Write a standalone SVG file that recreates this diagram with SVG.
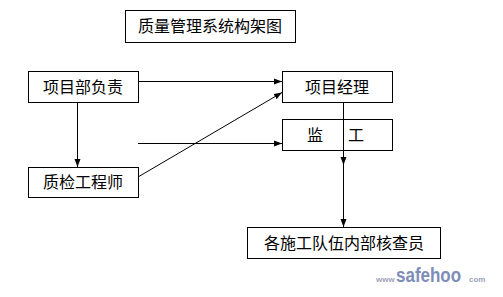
<svg xmlns="http://www.w3.org/2000/svg" width="503" height="297" viewBox="0 0 503 297">
<style>
.box{fill:#fff;stroke:#000;stroke-width:1}
.t{font-family:"Noto Sans CJK SC","Noto Sans CJK JP",sans-serif;font-size:16px;fill:#000;text-anchor:middle}
.c{stroke:#000;stroke-width:1;fill:none;marker-end:url(#ah)}
</style>
<defs>
<marker id="ah" markerUnits="userSpaceOnUse" markerWidth="8" markerHeight="8" viewBox="0 0 8 8" refX="8" refY="4" orient="auto">
<path d="M0,1 L8,4 L0,7 Z" fill="#000"/>
</marker>
</defs>
<rect width="503" height="297" fill="#fff"/>
<g id="title"><rect class="box" x="125.5" y="10.5" width="170" height="32"/><text class="t" x="210" y="32">质量管理系统构架图</text></g>
<g id="connectors">
<line class="c" x1="138" y1="81.5" x2="282" y2="81.5"/>
<line class="c" x1="138" y1="143.5" x2="282" y2="143.5"/>
<line class="c" x1="138" y1="177" x2="282" y2="92.5"/>
<line class="c" x1="77.5" y1="102" x2="77.5" y2="167"/>
<line class="c" x1="343.5" y1="103" x2="343.5" y2="165"/>
<line class="c" x1="343.5" y1="165" x2="343.5" y2="227"/>
</g>
<g id="n1"><rect class="box" x="28.5" y="71.5" width="110" height="31"/><text class="t" x="83" y="93">项目部负责</text></g>
<g id="n2"><rect class="box" x="28.5" y="167.5" width="110" height="30"/><text class="t" x="83" y="188">质检工程师</text></g>
<g id="n3"><rect class="box" x="282.5" y="71.5" width="110" height="31"/><text class="t" x="337" y="93">项目经理</text></g>
<g id="n4"><rect class="box" x="282.5" y="119.5" width="110" height="31"/><text class="t" y="141"><tspan x="315">监</tspan><tspan x="356">工</tspan></text></g>
<line x1="343.5" y1="103" x2="343.5" y2="151" stroke="#000" stroke-width="1"/>
<g id="n5"><rect class="box" x="247.5" y="227.5" width="193" height="31"/><text class="t" x="344" y="249">各施工队伍内部核查员</text></g>
<g id="watermark" font-family="'Liberation Sans',sans-serif" font-weight="bold">
<text x="376" y="282" font-size="8" fill="#9aa3b8">www</text>
<text x="396" y="282" font-size="20" fill="#7e8db8" transform="translate(396 282) scale(0.85 1) translate(-396 -282)">safehoo</text>
<text x="469" y="282" font-size="8" fill="#9aa3b8">com</text>
</g>
</svg>
